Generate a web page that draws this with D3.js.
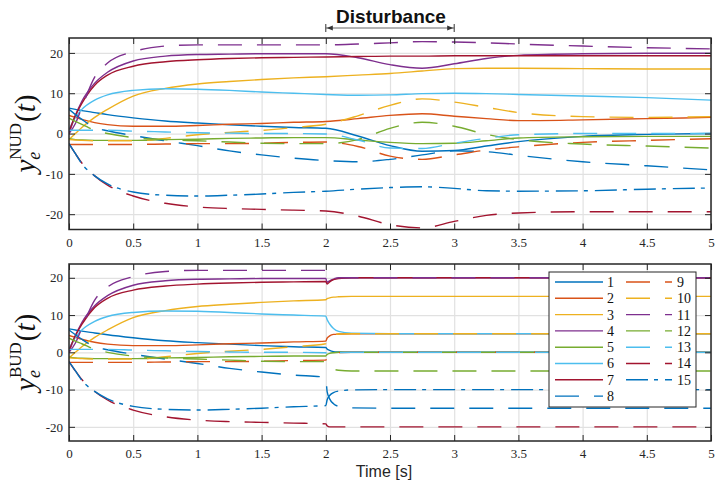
<!DOCTYPE html>
<html>
<head>
<meta charset="utf-8">
<script src="https://cdn.jsdelivr.net/npm/d3@7"></script>
<style>
body { margin: 0; background: #fff; }
.axis line { stroke: #262626; stroke-width: 1; }
.axis path { display: none; }
.grid line { stroke: #e1e1e1; stroke-width: 1.2; }
.grid path { display: none; }
.grid text { display: none; }
</style>
</head>
<body>
<script>
// time samples (s) for the NUD runs
var timeNud = [0, 0.05, 0.1, 0.2, 0.3, 0.5, 0.75, 1, 1.25, 1.5, 1.75, 2, 2.25, 2.5, 2.75, 3, 3.25, 3.5, 4, 4.5, 5];
// BUD follows NUD until t = 2, then these samples
var timeBudAfter = [2.01, 2.03, 2.06, 2.1, 2.2, 2.5, 5];

// NUD series
var nud1  = [6.3, 6.0, 5.7, 5.2, 4.7, 3.9, 3.1, 2.6, 2.2, 1.8, 1.5, 1.3, -0.6, -3.0, -4.4, -4.2, -3.1, -2.0, -0.7, -0.2, 0.0];
var nud2  = [4.5, 4.0, 3.5, 2.7, 2.2, 1.8, 1.8, 2.0, 2.3, 2.5, 2.8, 3.0, 3.7, 4.5, 4.9, 4.3, 3.7, 3.2, 3.4, 3.7, 4.0];
var nud3  = [-1.5, 0.0, 1.5, 4.0, 6.0, 9.3, 11.2, 12.3, 12.9, 13.4, 13.8, 14.1, 14.5, 14.9, 15.5, 16.1, 16.2, 16.2, 16.1, 16.0, 16.0];
var nud4  = [0.0, 4.5, 8.0, 12.5, 15.2, 18.0, 19.2, 19.6, 19.7, 19.8, 19.8, 19.8, 18.8, 17.1, 16.2, 17.3, 18.6, 19.4, 19.8, 19.9, 19.9];
var nud5  = [-1.3, -1.5, -1.6, -1.7, -1.7, -1.7, -1.5, -1.4, -1.2, -1.1, -1.0, -1.0, -1.6, -2.2, -2.5, -2.4, -1.8, -1.1, -0.8, -0.7, -0.7];
var nud6  = [1.0, 4.0, 6.0, 8.3, 9.6, 10.7, 11.1, 11.0, 10.7, 10.3, 10.0, 9.7, 9.5, 9.6, 9.9, 10.0, 9.9, 9.7, 9.3, 8.9, 8.3];
var nud7  = [0.5, 4.5, 7.5, 12.0, 14.5, 16.7, 17.8, 18.3, 18.6, 18.8, 18.9, 19.0, 19.1, 19.2, 19.2, 19.3, 19.3, 19.3, 19.3, 19.3, 19.3];
var nud8  = [6.0, 4.7, 3.5, 1.5, 0.7, -0.5, -1.8, -3.0, -4.3, -5.3, -6.1, -6.7, -7.0, -6.4, -5.3, -4.3, -4.5, -5.4, -7.0, -8.0, -9.0];
var nud9  = [-2.7, -2.7, -2.7, -2.7, -2.7, -2.7, -2.6, -2.5, -2.5, -2.4, -2.2, -2.1, -3.2, -5.6, -6.4, -5.3, -4.1, -3.3, -2.2, -1.7, -1.3];
var nud10 = [-1.5, -1.6, -1.7, -1.8, -1.8, -1.8, -1.2, -0.3, 0.3, 0.8, 1.5, 2.3, 4.4, 7.0, 8.6, 7.8, 6.5, 5.2, 4.2, 4.0, 4.2];
var nud11 = [0.0, 2.5, 6.5, 14.0, 17.5, 20.3, 21.7, 22.0, 22.0, 22.0, 22.0, 22.0, 22.2, 22.5, 22.8, 22.7, 22.5, 22.2, 21.7, 21.3, 21.0];
var nud12 = [3.8, 3.0, 2.3, 0.8, 0.0, -1.0, -1.5, -1.8, -2.1, -2.4, -2.5, -2.5, -1.5, 1.3, 2.8, 1.8, -0.2, -1.5, -2.6, -3.1, -3.6];
var nud13 = [0.8, 0.8, 0.8, 0.8, 0.8, 0.6, 0.4, 0.2, 0.1, 0.0, 0.0, -0.1, -1.6, -3.6, -3.7, -2.4, -1.2, -0.3, 0.0, 0.0, 0.0];
var nud14 = [-2.5, -5.0, -7.3, -10.5, -12.8, -15.5, -17.3, -18.2, -18.6, -18.8, -19.0, -19.2, -20.5, -22.6, -23.4, -21.8, -20.3, -19.7, -19.4, -19.4, -19.4];
var nud15 = [-2.5, -5.0, -7.5, -10.5, -12.5, -14.5, -15.3, -15.5, -15.3, -15.0, -14.6, -14.3, -13.8, -13.4, -13.2, -13.6, -14.2, -14.3, -14.2, -13.8, -13.5];

// BUD series after the disturbance starts (t > 2)
var bud1  = [0.9, 0.5, 0.2, 0.1, 0.0, 0.0, 0.0];
var bud2  = [3.8, 4.4, 4.8, 4.9, 5.0, 5.0, 5.0];
var bud3  = [14.4, 14.6, 14.8, 14.9, 15.0, 15.0, 15.0];
var bud4  = [18.8, 19.2, 19.6, 19.9, 20.0, 20.0, 20.0];
var bud5  = [-0.6, -0.3, -0.1, 0.0, 0.0, 0.0, 0.0];
var bud6  = [8.8, 7.6, 6.4, 5.6, 5.1, 5.0, 5.0];
var bud7  = [18.3, 18.9, 19.5, 19.8, 20.0, 20.0, 20.0];
var bud8  = [-10.5, -12.5, -13.8, -14.5, -14.9, -15.0, -15.0];
var bud9  = [-1.4, -0.8, -0.3, -0.1, 0.0, 0.0, 0.0];
var bud10 = [3.6, 4.3, 4.7, 4.9, 5.0, 5.0, 5.0];
var bud11 = [20.8, 19.8, 19.8, 20.0, 20.0, 20.0, 20.0];
var bud12 = [-3.2, -3.9, -4.5, -4.8, -5.0, -5.0, -5.0];
var bud13 = [-0.8, -0.6, -0.3, -0.1, 0.0, 0.0, 0.0];
var bud14 = [-19.7, -20.0, -20.0, -20.0, -20.0, -20.0, -20.0];
var bud15 = [-12.8, -11.6, -10.8, -10.4, -10.1, -10.0, -10.0];

var seriesNames = ["1", "2", "3", "4", "5", "6", "7", "8", "9", "10", "11", "12", "13", "14", "15"];
var xTicks = [0, 0.5, 1, 1.5, 2, 2.5, 3, 3.5, 4, 4.5, 5];
var yTicks = [-20, -10, 0, 10, 20];

// MATLAB default colour order, styles per series
var colors = ["#0072BD", "#D95319", "#EDB120", "#7E2F8E", "#77AC30", "#4DBEEE", "#A2142F"];
var dashed = "24,15", dashDot = "22,6,4,7";
function colorOf(i) { return colors[i % 7]; }
function dashOf(i) { return i < 7 ? null : (i < 14 ? dashed : dashDot); }

var nudList = [nud1, nud2, nud3, nud4, nud5, nud6, nud7, nud8, nud9, nud10, nud11, nud12, nud13, nud14, nud15];
var budList = [bud1, bud2, bud3, bud4, bud5, bud6, bud7, bud8, bud9, bud10, bud11, bud12, bud13, bud14, bud15];

// build point arrays
var nudData = nudList.map(function(vals) {
  return vals.map(function(v, k) { return {t: timeNud[k], v: v}; });
});
var nCut = timeNud.indexOf(2) + 1;
var timeBud = timeNud.slice(0, nCut).concat(timeBudAfter);
var budData = nudList.map(function(vals, i) {
  return vals.slice(0, nCut).concat(budList[i]).map(function(v, k) { return {t: timeBud[k], v: v}; });
});

var width = 715, height = 483;
var serif = "'Liberation Serif', 'Times New Roman', serif";
var sans = "'Liberation Sans', Arial, sans-serif";
var svg = d3.select("body").append("svg")
    .attr("width", width)
    .attr("height", height);

// set the x range (shared by both panels)
var x = d3.scaleLinear().domain([0, 5]).range([69, 711]);

function drawPanel(data, top, bottom, sup, id) {
  var y = d3.scaleLinear().domain([-23.8, 23.7]).range([bottom, top]);
  var g = svg.append("g");

  // grid lines
  g.append("g").attr("class", "grid")
      .attr("transform", "translate(0," + bottom + ")")
      .call(d3.axisBottom(x).tickValues(xTicks).tickSize(-(bottom - top)));
  g.append("g").attr("class", "grid")
      .attr("transform", "translate(69,0)")
      .call(d3.axisLeft(y).tickValues(yTicks).tickSize(-(711 - 69)));

  // clip
  svg.append("clipPath").attr("id", id)
    .append("rect").attr("x", 69).attr("y", top).attr("width", 642).attr("height", bottom - top);

  var line = d3.line()
      .x(function(d) { return x(d.t); })
      .y(function(d) { return y(d.v); })
      .curve(d3.curveMonotoneX);

  g.append("g").attr("clip-path", "url(#" + id + ")")
    .selectAll("path")
    .data(data)
    .enter().append("path")
      .attr("d", line)
      .attr("fill", "none")
      .attr("stroke", function(d, i) { return colorOf(i); })
      .attr("stroke-width", 1.4)
      .attr("stroke-dasharray", function(d, i) { return dashOf(i); });

  // axes with inward ticks
  g.append("g").attr("class", "axis")
      .attr("transform", "translate(0," + bottom + ")")
      .call(d3.axisBottom(x).tickValues(xTicks).tickSizeInner(-6).tickSizeOuter(0).tickPadding(8)
        .tickFormat(function(d) { return String(d); }));
  g.append("g").attr("class", "axis")
      .attr("transform", "translate(0," + top + ")")
      .call(d3.axisTop(x).tickValues(xTicks).tickSizeInner(-6).tickSizeOuter(0).tickFormat(""));
  g.append("g").attr("class", "axis")
      .attr("transform", "translate(69,0)")
      .call(d3.axisLeft(y).tickValues(yTicks).tickSizeInner(-6).tickSizeOuter(0).tickPadding(6)
        .tickFormat(function(d) { return String(d); }));
  g.append("g").attr("class", "axis")
      .attr("transform", "translate(711,0)")
      .call(d3.axisRight(y).tickValues(yTicks).tickSizeInner(-6).tickSizeOuter(0).tickFormat(""));

  g.selectAll(".axis")
      .attr("font-family", serif)
      .attr("font-size", 13);
  g.selectAll(".axis .tick text")
      .attr("fill", "#262626")
      .style("font-family", serif);

  // box
  g.append("rect")
      .attr("x", 69).attr("y", top)
      .attr("width", 642).attr("height", bottom - top)
      .attr("fill", "none")
      .attr("stroke", "#262626")
      .attr("stroke-width", 1.5);

  // y label  y_e^{sup}(t)
  var cy = y(0);
  var lab = g.append("text")
      .attr("transform", "translate(35," + cy + ") rotate(-90)")
      .attr("text-anchor", "middle")
      .attr("font-family", serif)
      .attr("fill", "#111");
  lab.append("tspan").attr("font-size", 29).attr("font-style", "italic").text("y");
  lab.append("tspan").attr("font-size", 18).attr("font-style", "italic").attr("dy", 5).text("e");
  lab.append("tspan").attr("font-size", 17).attr("dx", -8).attr("dy", -19).text(sup);
  lab.append("tspan").attr("font-size", 29).attr("dx", 1).attr("dy", 14).text("(");
  lab.append("tspan").attr("font-size", 29).attr("font-style", "italic").text("t");
  lab.append("tspan").attr("font-size", 29).text(")");

  return y;
}

drawPanel(nudData, 38, 229.5, "NUD", "clipTop");
drawPanel(budData, 264, 441, "BUD", "clipBottom");

// x axis title
svg.append("text")
    .attr("x", 384)
    .attr("y", 477)
    .attr("text-anchor", "middle")
    .attr("font-family", sans)
    .attr("font-size", 16)
    .attr("fill", "#262626")
    .text("Time [s]");

// disturbance marker
var x2 = x(2), x3 = x(3);
svg.append("text")
    .attr("x", (x2 + x3) / 2 + 1)
    .attr("y", 23)
    .attr("text-anchor", "middle")
    .attr("font-family", sans)
    .attr("font-weight", "bold")
    .attr("font-size", 19)
    .attr("fill", "#111")
    .text("Disturbance");
svg.append("line").attr("x1", x2).attr("x2", x3).attr("y1", 28).attr("y2", 28)
    .attr("stroke", "#666").attr("stroke-width", 1);
[x2, x3].forEach(function(px) {
  svg.append("line").attr("x1", px).attr("x2", px).attr("y1", 24).attr("y2", 32)
      .attr("stroke", "#333").attr("stroke-width", 1);
});
svg.append("path")
    .attr("d", "M" + (x2 + 1) + ",28 L" + (x2 + 7) + ",25.5 L" + (x2 + 7) + ",30.5 Z")
    .attr("fill", "#333");
svg.append("path")
    .attr("d", "M" + (x3 - 1) + ",28 L" + (x3 - 7) + ",25.5 L" + (x3 - 7) + ",30.5 Z")
    .attr("fill", "#333");

// legend
var legend = svg.append("g");
legend.append("rect")
    .attr("x", 549).attr("y", 272)
    .attr("width", 147).attr("height", 135)
    .attr("fill", "#fff")
    .attr("stroke", "#262626")
    .attr("stroke-width", 1);

var item = legend.selectAll("g.item")
    .data(seriesNames)
    .enter().append("g")
      .attr("class", "item")
      .attr("transform", function(d, i) {
        var col = i < 8 ? 0 : 1, row = i < 8 ? i : i - 8;
        return "translate(" + (col === 0 ? 555 : 626) + "," + (282 + row * 16.3) + ")";
      });
item.append("line")
    .attr("x1", 0)
    .attr("x2", function(d, i) { return i < 8 ? 48 : 46; })
    .attr("stroke", function(d, i) { return colorOf(i); })
    .attr("stroke-width", 1.4)
    .attr("stroke-dasharray", function(d, i) { return dashOf(i); });
item.append("text")
    .attr("x", function(d, i) { return i < 8 ? 52 : 51; })
    .attr("dy", "0.35em")
    .attr("font-family", serif)
    .attr("font-size", 14)
    .attr("fill", "#111")
    .text(function(d) { return d; });
</script>
</body>
</html>
